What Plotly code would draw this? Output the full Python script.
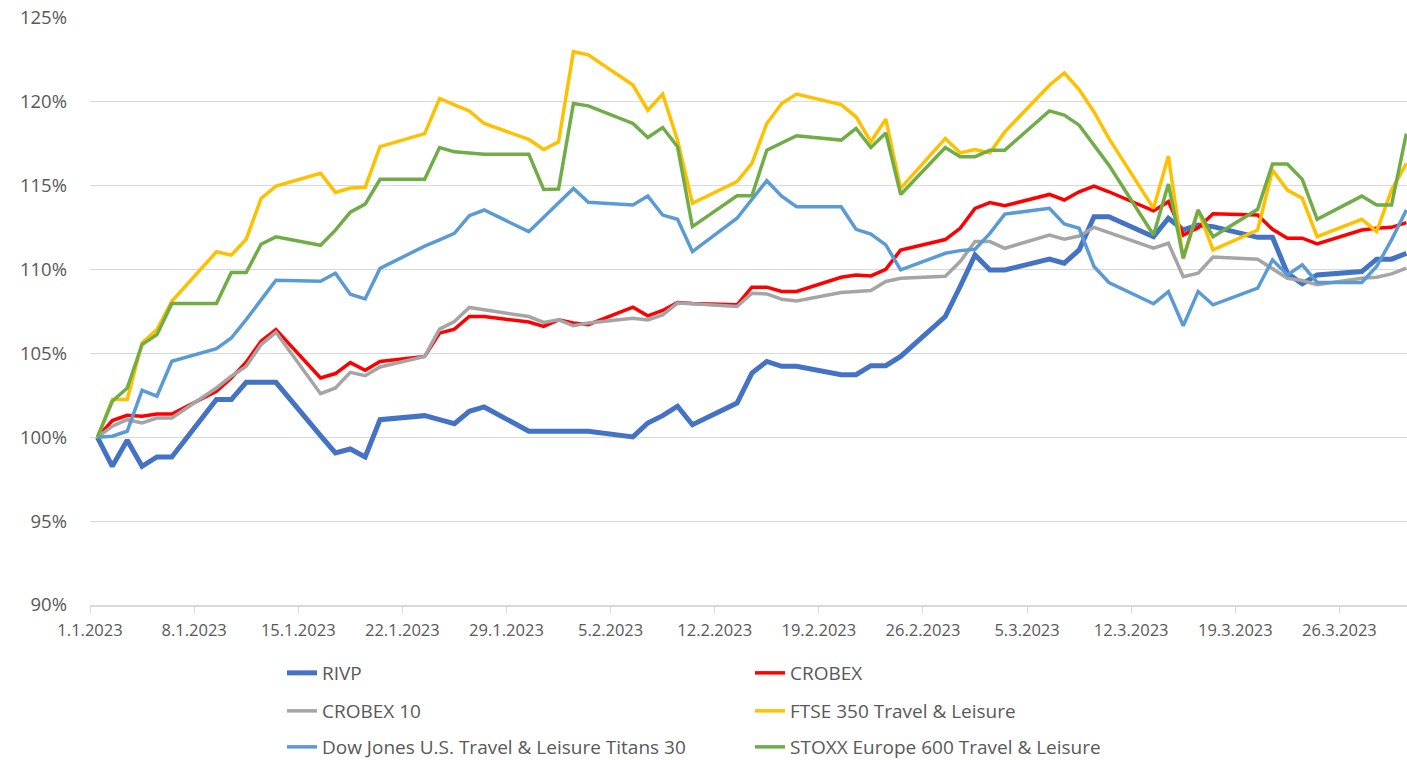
import plotly.graph_objects as go
import pandas as pd

dates = ["2023-01-01",
         "2023-01-02", "2023-01-03", "2023-01-04", "2023-01-05", "2023-01-06",
         "2023-01-09", "2023-01-10", "2023-01-11", "2023-01-12", "2023-01-13",
         "2023-01-16", "2023-01-17", "2023-01-18", "2023-01-19", "2023-01-20",
         "2023-01-23", "2023-01-24", "2023-01-25", "2023-01-26", "2023-01-27",
         "2023-01-30", "2023-01-31", "2023-02-01", "2023-02-02", "2023-02-03",
         "2023-02-06", "2023-02-07", "2023-02-08", "2023-02-09", "2023-02-10",
         "2023-02-13", "2023-02-14", "2023-02-15", "2023-02-16", "2023-02-17",
         "2023-02-20", "2023-02-21", "2023-02-22", "2023-02-23", "2023-02-24",
         "2023-02-27", "2023-02-28", "2023-03-01", "2023-03-02", "2023-03-03",
         "2023-03-06", "2023-03-07", "2023-03-08", "2023-03-09", "2023-03-10",
         "2023-03-13", "2023-03-14", "2023-03-15", "2023-03-16", "2023-03-17",
         "2023-03-20", "2023-03-21", "2023-03-22", "2023-03-23", "2023-03-24",
         "2023-03-27", "2023-03-28", "2023-03-29", "2023-03-30"]

rivp = [100,
        98.27, 99.82, 98.27, 98.83, 98.83,
        102.25, 102.25, 103.28, 103.28, 103.28,
        100.1, 99.07, 99.30, 98.83, 101.05,
        101.29, 101.05, 100.81, 101.55, 101.81,
        100.36, 100.36, 100.36, 100.36, 100.36,
        100.02, 100.85, 101.29, 101.85, 100.75,
        102.04, 103.83, 104.52, 104.23, 104.23,
        103.73, 103.73, 104.27, 104.27, 104.82,
        107.20, 108.99, 110.87, 109.98, 109.98,
        110.62, 110.38, 111.17, 113.15, 113.15,
        111.96, 113.06, 112.36, 112.66, 112.56,
        111.92, 111.92, 109.78, 109.15, 109.68,
        109.88, 110.62, 110.62, 110.97]

crobex = [100,
          101.0, 101.31, 101.25, 101.39, 101.39,
          102.74, 103.54, 104.47, 105.73, 106.42,
          103.54, 103.80, 104.45, 104.0, 104.52,
          104.82, 106.21, 106.45, 107.20, 107.20,
          106.87, 106.61, 107.00, 106.81, 106.71,
          107.76, 107.24, 107.56, 108.04, 107.98,
          107.90, 108.95, 108.95, 108.69, 108.69,
          109.54, 109.68, 109.62, 110.02, 111.17,
          111.79, 112.46, 113.65, 113.99, 113.81,
          114.48, 114.15, 114.64, 114.98, 114.64,
          113.5, 114.05, 112.06, 112.49, 113.33,
          113.25, 112.40, 111.87, 111.87, 111.53,
          112.36, 112.46, 112.52, 112.80]

crobex10 = [100,
            100.66, 101.05, 100.85, 101.15, 101.15,
            102.94, 103.64, 104.23, 105.53, 106.26,
            102.60, 102.94, 103.87, 103.67, 104.19,
            104.82, 106.45, 106.90, 107.74, 107.60,
            107.20, 106.85, 107.00, 106.65, 106.81,
            107.10, 107.00, 107.30, 108.00, 107.96,
            107.80, 108.59, 108.55, 108.23, 108.13,
            108.63, 108.69, 108.75, 109.29, 109.48,
            109.60, 110.48, 111.67, 111.67, 111.27,
            112.06, 111.81, 112.00, 112.52, 112.20,
            111.27, 111.57, 109.58, 109.78, 110.75,
            110.62, 110.08, 109.48, 109.35, 109.09,
            109.48, 109.54, 109.74, 110.08]

ftse = [100,
        102.25, 102.25, 105.63, 106.42, 108.11,
        111.06, 110.86, 111.81, 114.24, 114.98,
        115.74, 114.60, 114.86, 114.91, 117.33,
        118.11, 120.2, 119.82, 119.46, 118.71,
        117.76, 117.16, 117.62, 122.99, 122.8,
        121.0, 119.5, 120.46, 117.72, 113.95,
        115.24, 116.33, 118.71, 119.90, 120.46,
        119.84, 119.11, 117.62, 118.97, 114.84,
        117.82, 116.96, 117.16, 116.96, 118.21,
        120.99, 121.73, 120.73, 119.40, 117.82,
        113.65, 116.77, 110.67, 113.55, 111.17,
        112.36, 115.93, 114.74, 114.25, 111.96,
        113.0, 112.26, 114.74, 116.33]

dowjones = [100,
            100.06, 100.36, 102.80, 102.45, 104.53,
            105.29, 105.92, 107.02, 108.21, 109.36,
            109.30, 109.78, 108.53, 108.25, 110.07,
            111.4, 111.77, 112.16, 113.21, 113.55,
            112.26, 113.1, 113.95, 114.84, 114.01,
            113.85, 114.38, 113.25, 113.0, 111.07,
            113.06, 114.15, 115.30, 114.38, 113.75,
            113.75, 112.40, 112.12, 111.47, 109.98,
            110.97, 111.13, 111.21, 112.16, 113.31,
            113.65, 112.72, 112.46, 110.18, 109.23,
            107.96, 108.69, 106.65, 108.69, 107.90,
            108.89, 110.58, 109.68, 110.28, 109.23,
            109.23, 110.18, 111.77, 113.55]

stoxx = [100,
         102.15, 102.94, 105.53, 106.12, 107.97,
         107.97, 109.82, 109.82, 111.51, 111.95,
         111.45, 112.35, 113.42, 113.90, 115.38,
         115.38, 117.28, 117.02, 116.94, 116.88,
         116.88, 114.78, 114.80, 119.90, 119.76,
         118.71, 117.88, 118.47, 117.32, 112.56,
         114.40, 114.40, 117.12, 117.56, 117.98,
         117.72, 118.42, 117.28, 118.15, 114.48,
         117.28, 116.73, 116.73, 117.12, 117.12,
         119.46, 119.21, 118.61, 117.42, 116.23,
         112.06, 115.10, 110.67, 113.55, 111.96,
         113.59, 116.29, 116.29, 115.38, 113.0,
         114.38, 113.85, 113.85, 118.1]

series_names = ["RIVP", "CROBEX", "CROBEX 10", "FTSE 350 Travel & Leisure",
                "Dow Jones U.S. Travel & Leisure Titans 30",
                "STOXX Europe 600 Travel & Leisure"]
series_values = [rivp, crobex, crobex10, ftse, dowjones, stoxx]
colors = ["#4472C4", "#FF0000", "#A5A5A5", "#FFC000", "#5B9BD5", "#70AD47"]
widths = [5, 3.5, 3.5, 3.5, 3.5, 3.5]
legend_ids = ["legend", "legend", "legend2", "legend2", "legend3", "legend3"]

# Excel date axis with points placed in the middle of each day slot
xdates = pd.to_datetime(dates) + pd.Timedelta(hours=12)

fig = go.Figure()
for name, vals, col, w, lg in zip(series_names, series_values, colors, widths, legend_ids):
    fig.add_trace(go.Scatter(x=xdates, y=vals, name=name, mode="lines",
                             line=dict(color=col, width=w), legend=lg))

FONT = "Open Sans"
TXT = "#595959"
GRID = "#D9D9D9"

W, H = 1407, 760
ml, mr, mt, mb = 90, 0, 18, 155
pw, ph = W - ml - mr, H - mt - mb

def lx(px):
    return (px - ml) / pw

def ly(py):
    return (H - mb - py) / ph

legend_common = dict(orientation="h", xanchor="left", yanchor="middle",
                     x=lx(282), entrywidth=423, entrywidthmode="pixels",
                     font=dict(family=FONT, size=19, color=TXT),
                     bgcolor="rgba(0,0,0,0)", borderwidth=0)

fig.update_layout(
    width=W, height=H,
    margin=dict(l=ml, r=mr, t=mt, b=mb, autoexpand=False),
    paper_bgcolor="white", plot_bgcolor="white",
    font=dict(family=FONT, color=TXT),
    showlegend=True,
    legend=dict(legend_common, y=ly(673)),
    legend2=dict(legend_common, y=ly(711)),
    legend3=dict(legend_common, y=ly(747)),
    xaxis=dict(type="date", automargin=False,
               range=["2023-01-01 00:00", "2023-03-30 13:00"],
               tick0="2023-01-01", dtick=7 * 24 * 3600 * 1000,
               tickformat="%-d.%-m.%Y",
               showgrid=False, zeroline=False,
               showline=True, linecolor=GRID, linewidth=1.5,
               ticks="outside", ticklen=6, tickcolor=GRID, tickwidth=1,
               ticklabelstandoff=3,
               tickfont=dict(family=FONT, size=16.5, color=TXT)),
    yaxis=dict(range=[90, 125], dtick=5, tick0=90, ticksuffix="%",
               automargin=False,
               showgrid=True, gridcolor=GRID, gridwidth=1,
               zeroline=False, showline=False, ticks="",
               ticklabelstandoff=22,
               tickfont=dict(family=FONT, size=18.5, color=TXT)),
)

fig.write_html("out.html",
               config={"displayModeBar": False},
               post_script="document.body.style.margin='0';document.body.style.padding='0';")
